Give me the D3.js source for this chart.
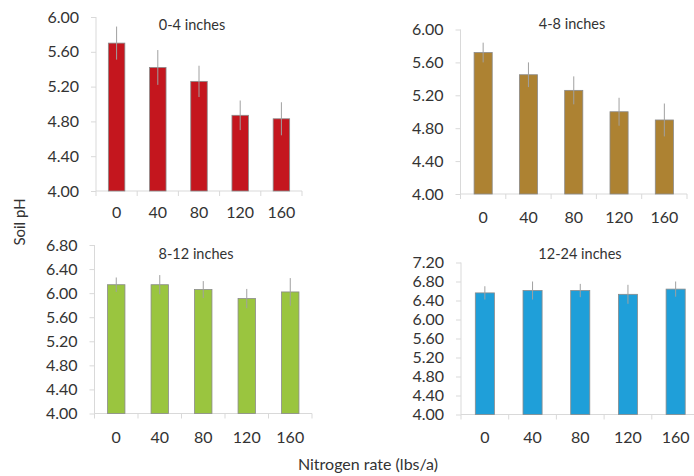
<!DOCTYPE html>
<html>
<head>
<meta charset="utf-8">
<script src="https://cdn.jsdelivr.net/npm/d3@7"></script>
<style>
  html, body { margin: 0; padding: 0; background: #fff; }
  svg { display: block; }
  text { font-family: Lato, "Open Sans", sans-serif; fill: #333; }
</style>
</head>
<body>
<svg id="chart" width="694" height="476"></svg>
<script>
// ---- data ----
const rates = ["0", "40", "80", "120", "160"];
const depths = ["0-4 inches", "4-8 inches", "8-12 inches", "12-24 inches"];
const ph0to4   = [5.70, 5.42, 5.26, 4.87, 4.83];
const err0to4  = [0.19, 0.20, 0.18, 0.17, 0.19];
const ph4to8   = [5.72, 5.45, 5.26, 5.00, 4.90];
const err4to8  = [0.12, 0.15, 0.17, 0.17, 0.20];
const ph8to12  = [6.14, 6.14, 6.06, 5.91, 6.02];
const err8to12 = [0.12, 0.16, 0.14, 0.16, 0.23];
const ph12to24 = [6.56, 6.61, 6.61, 6.53, 6.64];
const err12to24= [0.14, 0.19, 0.14, 0.20, 0.16];
const yTicks0to4   = [4.0, 4.4, 4.8, 5.2, 5.6, 6.0];
const yTicks4to8   = [4.0, 4.4, 4.8, 5.2, 5.6, 6.0];
const yTicks8to12  = [4.0, 4.4, 4.8, 5.2, 5.6, 6.0, 6.4, 6.8];
const yTicks12to24 = [4.0, 4.4, 4.8, 5.2, 5.6, 6.0, 6.4, 6.8, 7.2];
const yLabel = "Soil pH";
const xLabel = "Nitrogen rate (lbs/a)";

// ---- layout ----
const panels = [
  { title: depths[0], vals: ph0to4,   errs: err0to4,   ticks: yTicks0to4,   color: "#c4161e",
    x0: 96, x1: 302, yTop: 17, yBot: 191, titleX: 192, titleY: 30, labY: 218 },
  { title: depths[1], vals: ph4to8,   errs: err4to8,   ticks: yTicks4to8,   color: "#ad8232",
    x0: 460.5, x1: 687, yTop: 29.5, yBot: 194, titleX: 572, titleY: 29, labY: 223 },
  { title: depths[2], vals: ph8to12,  errs: err8to12,  ticks: yTicks8to12,  color: "#9ac53f",
    x0: 94.5, x1: 312, yTop: 245, yBot: 413.5, titleX: 196, titleY: 259, labY: 443 },
  { title: depths[3], vals: ph12to24, errs: err12to24, ticks: yTicks12to24, color: "#1f9fd9",
    x0: 461, x1: 699.5, yTop: 262.5, yBot: 414.5, titleX: 580, titleY: 259, labY: 443 }
];

const svg = d3.select("#chart");

panels.forEach(p => {
  const g = svg.append("g");
  const x = d3.scaleBand().domain(rates).range([p.x0, p.x1]).paddingInner(0).paddingOuter(0);
  const y = d3.scaleLinear().domain([p.ticks[0], p.ticks[p.ticks.length - 1]]).range([p.yBot, p.yTop]);
  const bw = x.bandwidth() * 0.4;

  // y axis
  const ya = g.append("g").attr("transform", `translate(${p.x0},0)`)
    .call(d3.axisLeft(y).tickValues(p.ticks).tickFormat(d3.format(".2f")).tickSize(5).tickPadding(12));
  ya.select(".domain").attr("stroke", "#d9d9d9").attr("d", `M0,${p.yTop}V${p.yBot}`);
  ya.selectAll(".tick line").attr("stroke", "#d9d9d9");
  ya.selectAll(".tick text").attr("font-size", 16).attr("font-family", "Lato").attr("fill", "#333");

  // x axis (category boundaries ticks)
  const xa = g.append("g").attr("transform", `translate(0,${p.yBot})`)
    .call(d3.axisBottom(x).tickSize(0).tickPadding(0));
  xa.select(".domain").attr("stroke", "#d9d9d9").attr("d", `M${p.x0},0H${p.x1}`);
  xa.selectAll(".tick text").attr("font-size", 16).attr("font-family", "Lato").attr("fill", "#333")
    .attr("dy", null).attr("y", p.labY - p.yBot);
  const bounds = rates.map(r => x(r)).concat([p.x1]);
  xa.selectAll("line.bnd").data(bounds).enter().append("line").attr("class", "bnd")
    .attr("x1", d => d).attr("x2", d => d).attr("y1", 0).attr("y2", 5).attr("stroke", "#d9d9d9");

  // bars
  g.selectAll("rect.bar").data(p.vals).enter().append("rect").attr("class", "bar")
    .attr("x", (d, i) => x(rates[i]) + (x.bandwidth() - bw) / 2)
    .attr("width", bw)
    .attr("y", d => y(d))
    .attr("height", d => y(p.ticks[0]) - y(d))
    .attr("fill", p.color)
    .attr("stroke", "#8a8a8a").attr("stroke-width", 0.8);

  // error bars
  g.selectAll("line.err").data(p.vals).enter().append("line").attr("class", "err")
    .attr("x1", (d, i) => x(rates[i]) + x.bandwidth() / 2)
    .attr("x2", (d, i) => x(rates[i]) + x.bandwidth() / 2)
    .attr("y1", (d, i) => y(d + p.errs[i]))
    .attr("y2", (d, i) => y(d - p.errs[i]))
    .attr("stroke", "#a0a0a0").attr("stroke-width", 1);

  // title
  g.append("text").attr("x", p.titleX).attr("y", p.titleY).attr("text-anchor", "middle")
    .attr("font-size", 14.5).text(p.title);
});

svg.append("text").attr("transform", "translate(25,222) rotate(-90)")
  .attr("text-anchor", "middle").attr("font-size", 15).text(yLabel);
svg.append("text").attr("x", 368).attr("y", 470).attr("text-anchor", "middle")
  .attr("font-size", 16).text(xLabel);
</script>
</body>
</html>
